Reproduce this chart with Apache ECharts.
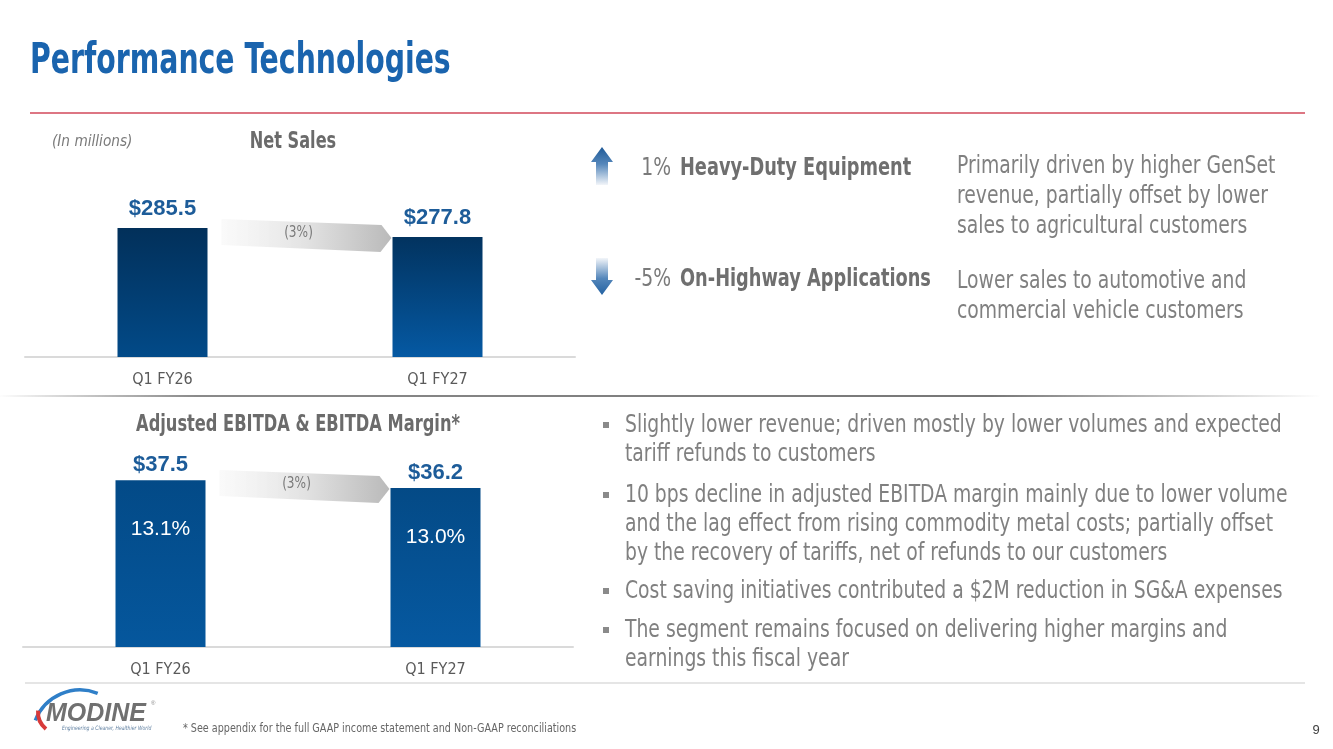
<!DOCTYPE html>
<html>
<head>
<meta charset="utf-8">
<script src="https://cdn.jsdelivr.net/npm/echarts@6/dist/echarts.min.js"></script>
<style>
  html, body { margin: 0; padding: 0; background: #fff; }
  #chart { width: 1333px; height: 749px; }
</style>
</head>
<body>
<div id="chart"></div>
<script>
// values
const categories = ['Q1 FY26', 'Q1 FY27'];
const netSales = [285.5, 277.8];
const netSalesChange = '(3%)';
const ebitda = [37.5, 36.2];
const ebitdaMargin = [13.1, 13.0];
const ebitdaChange = '(3%)';

const segments = [
  { pct: '1%', name: 'Heavy-Duty Equipment', dir: 'up',
    lines: ['Primarily driven by higher GenSet', 'revenue, partially offset by lower', 'sales to agricultural customers'] },
  { pct: '-5%', name: 'On-Highway Applications', dir: 'down',
    lines: ['Lower sales to automotive and', 'commercial vehicle customers'] }
];
const bullets = [
  ['Slightly lower revenue; driven mostly by lower volumes and expected', 'tariff refunds to customers'],
  ['10 bps decline in adjusted EBITDA margin mainly due to lower volume', 'and the lag effect from rising commodity metal costs; partially offset', 'by the recovery of tariffs, net of refunds to our customers'],
  ['Cost saving initiatives contributed a $2M reduction in SG&A expenses'],
  ['The segment remains focused on delivering higher margins and', 'earnings this fiscal year']
];

// no narrow font installed, so condensed text is squeezed with scaleX
const FONT = "'DejaVu Sans Condensed', 'DejaVu Sans', sans-serif";
const NUM_FONT = "'Liberation Sans', Arial, sans-serif";
const GRAY = '#808080';
const BLUE = '#1d5c99';

const chart = echarts.init(document.getElementById('chart'));

function grad(top, bottom) {
  return new echarts.graphic.LinearGradient(0, 0, 0, 1, [
    { offset: 0, color: top }, { offset: 1, color: bottom }
  ]);
}
const salesColors = [grad('#02305a', '#024a88'), grad('#02335f', '#0559a3')];
const ebitdaColors = [grad('#034a87', '#05579d'), grad('#044a86', '#0659a1')];

function txt(x, y, text, o) {
  o = o || {};
  return {
    type: 'text', silent: true, z: 10,
    x: x, y: y, scaleX: o.sx || 1,
    style: {
      x: 0, y: 0, text: text,
      fontFamily: o.family || FONT,
      fontSize: o.size || 25,
      fontWeight: o.weight || 'normal',
      fontStyle: o.style || 'normal',
      fill: o.color || GRAY,
      textAlign: o.align || 'left',
      textVerticalAlign: 'middle'
    }
  };
}
function hline(x1, x2, y, color, w) {
  return { type: 'line', silent: true, shape: { x1: x1, y1: y, x2: x2, y2: y },
    style: { stroke: color, lineWidth: w || 1.5 } };
}

const xAxisBase = {
  type: 'category', data: categories,
  axisTick: { show: false },
  axisLine: { lineStyle: { color: '#dadada', width: 2 } },
  axisLabel: { color: '#5a5a5a', fontSize: 16, fontFamily: FONT, margin: 15 }
};
const yAxisBase = { type: 'value', show: false, splitLine: { show: false } };
const valueLabel = {
  show: true, position: 'top', color: BLUE, fontSize: 22,
  fontWeight: 'bold', fontFamily: NUM_FONT, formatter: p => '$' + p.value.toFixed(1)
};

chart.setOption({
  animation: false,
  grid: [
    { left: 25, width: 550, top: 152.7, height: 204.3 },
    { left: 23, width: 550, top: 465, height: 182 }
  ],
  xAxis: [
    Object.assign({ gridIndex: 0 }, xAxisBase),
    Object.assign({ gridIndex: 1 }, xAxisBase)
  ],
  yAxis: [
    Object.assign({ gridIndex: 0, min: 175, max: 350 }, yAxisBase),
    Object.assign({ gridIndex: 1, min: 10, max: 40 }, yAxisBase)
  ],
  series: [
    {
      name: 'Net Sales', type: 'bar', xAxisIndex: 0, yAxisIndex: 0, barWidth: 90,
      data: netSales.map((v, i) => ({ value: v, itemStyle: { color: salesColors[i] } })),
      label: Object.assign({ distance: 8 }, valueLabel)
    },
    {
      name: 'Adjusted EBITDA', type: 'bar', xAxisIndex: 1, yAxisIndex: 1, barWidth: 90,
      data: ebitda.map((v, i) => ({ value: v, itemStyle: { color: ebitdaColors[i] } })),
      label: Object.assign({ distance: 4 }, valueLabel)
    },
    {
      name: 'EBITDA Margin', type: 'bar', xAxisIndex: 1, yAxisIndex: 1, barWidth: 90,
      barGap: '-100%', z: 3, silent: true,
      data: ebitda,
      itemStyle: { color: 'rgba(0,0,0,0)' },
      label: { show: true, position: 'insideTop', distance: 39, color: '#ffffff', fontSize: 21,
        fontFamily: NUM_FONT, formatter: p => ebitdaMargin[p.dataIndex].toFixed(1) + '%' }
    }
  ]
});

// change arrows between bars, placed from the bar pixels
function changeBand(gridIndex, values, label) {
  const a = chart.convertToPixel({ gridIndex: gridIndex }, [0, values[0]]);
  const b = chart.convertToPixel({ gridIndex: gridIndex }, [1, values[1]]);
  const x0 = a[0] + 45 + 14;
  const tip = b[0] - 45 - 1;
  const ty = b[1] + 1;
  const xr = tip - 10;
  const fill = new echarts.graphic.LinearGradient(0, 0, 1, 0, [
    { offset: 0, color: 'rgba(238,238,238,0.3)' },
    { offset: 0.5, color: '#e2e2e2' },
    { offset: 1, color: '#bababa' }
  ]);
  return [
    { type: 'polygon', silent: true, z: 5,
      shape: { points: [[x0, ty - 19], [xr, ty - 13], [tip, ty], [xr - 1, ty + 14], [x0, ty + 7]] },
      style: { fill: fill } },
    txt((x0 + tip) / 2 - 8, ty - 5, label, { size: 15, color: '#7a7a7a', align: 'center', sx: 0.9 })
  ];
}

function arrowIcon(cx, yTop, yBot, dir) {
  let pts, g;
  if (dir === 'up') {
    pts = [[cx, yTop], [cx + 11, yTop + 15], [cx + 6, yTop + 15], [cx + 6, yBot],
           [cx - 6, yBot], [cx - 6, yTop + 15], [cx - 11, yTop + 15]];
    g = new echarts.graphic.LinearGradient(0, 0, 0, 1, [
      { offset: 0, color: '#1f5a97' }, { offset: 0.45, color: '#5587bb' }, { offset: 1, color: '#f2f5f9' }]);
  } else {
    pts = [[cx, yBot], [cx + 11, yBot - 15], [cx + 6, yBot - 15], [cx + 6, yTop],
           [cx - 6, yTop], [cx - 6, yBot - 15], [cx - 11, yBot - 15]];
    g = new echarts.graphic.LinearGradient(0, 0, 0, 1, [
      { offset: 0, color: '#f2f5f9' }, { offset: 0.55, color: '#5587bb' }, { offset: 1, color: '#2462a2' }]);
  }
  return { type: 'polygon', silent: true, shape: { points: pts }, style: { fill: g } };
}

const sepGrad = new echarts.graphic.LinearGradient(0, 0, 1, 0, [
  { offset: 0, color: 'rgba(120,120,120,0)' },
  { offset: 0.15, color: '#8a8a8a' },
  { offset: 0.75, color: '#777777' },
  { offset: 1, color: 'rgba(120,120,120,0)' }
]);

const graphics = [
  txt(30, 62, 'Performance Technologies', { size: 42, weight: 'bold', color: '#1a64ae', sx: 0.75 }),
  hline(30, 1305, 113, '#d2485a', 1.5),
  txt(52, 142, '(In millions)', { size: 16, style: 'italic', color: '#7a7a7a', sx: 0.95 }),
  txt(293, 142, 'Net Sales', { size: 23, weight: 'bold', color: '#6b6b6b', align: 'center', sx: 0.78 }),
  txt(298, 425, 'Adjusted EBITDA & EBITDA Margin*', { size: 23, weight: 'bold', color: '#6b6b6b', align: 'center', sx: 0.785 }),
  { type: 'line', silent: true, shape: { x1: 0, y1: 396, x2: 1320, y2: 396 },
    style: { stroke: sepGrad, lineWidth: 2 } },
  hline(25, 1305, 683, '#dcdcdc', 1.5),
  txt(183, 729, '* See appendix for the full GAAP income statement and Non-GAAP reconciliations',
    { size: 12, color: '#666666', sx: 0.89 }),
  txt(1316, 730, '9', { size: 13, color: '#404040', family: NUM_FONT, align: 'center' })
];

// segment drivers
const segY = [168, 279];
const descY = [166, 281];
segments.forEach((s, i) => {
  const y = segY[i];
  graphics.push(s.dir === 'up' ? arrowIcon(602, y - 21, y + 17, 'up') : arrowIcon(602, y - 21, y + 16, 'down'));
  graphics.push(txt(671, y, s.pct, { color: '#7a7a7a', align: 'right', sx: 0.835 }));
  graphics.push(txt(680, y, s.name, { weight: 'bold', color: '#6f6f6f', sx: 0.79 }));
  s.lines.forEach((l, j) => graphics.push(txt(957, descY[i] + j * 30, l, { sx: 0.835 })));
});

// bullet points
const bulletY = [425, 495, 591, 630];
bullets.forEach((b, i) => {
  const y0 = bulletY[i];
  graphics.push({ type: 'rect', silent: true, shape: { x: 603, y: y0 - 3, width: 6, height: 6 },
    style: { fill: '#8a8a8a' } });
  b.forEach((l, j) => graphics.push(txt(625, y0 + j * 29.3, l, { sx: 0.835 })));
});

// logo
graphics.push(
  { type: 'arc', silent: true, shape: { cx: 80, cy: 738, r: 48, startAngle: Math.PI * 1.12, endAngle: Math.PI * 1.62 },
    style: { stroke: '#2f7fc8', lineWidth: 3.5, fill: null } },
  { type: 'arc', silent: true, shape: { cx: 60, cy: 712, r: 22, startAngle: Math.PI * 0.72, endAngle: Math.PI * 1.02 },
    style: { stroke: '#d83a3a', lineWidth: 4, fill: null } },
  txt(46, 714, 'MODINE', { size: 25, weight: 'bold', style: 'italic', color: '#707070', family: NUM_FONT }),
  txt(151, 703, '®', { size: 6, color: '#888', family: NUM_FONT }),
  txt(62, 728, 'Engineering a Cleaner, Healthier World', { size: 6, style: 'italic', color: '#5f7fa0', sx: 0.85 })
);

graphics.push.apply(graphics, changeBand(0, netSales, netSalesChange));
graphics.push.apply(graphics, changeBand(1, ebitda, ebitdaChange));

chart.setOption({ graphic: graphics });
</script>
</body>
</html>
